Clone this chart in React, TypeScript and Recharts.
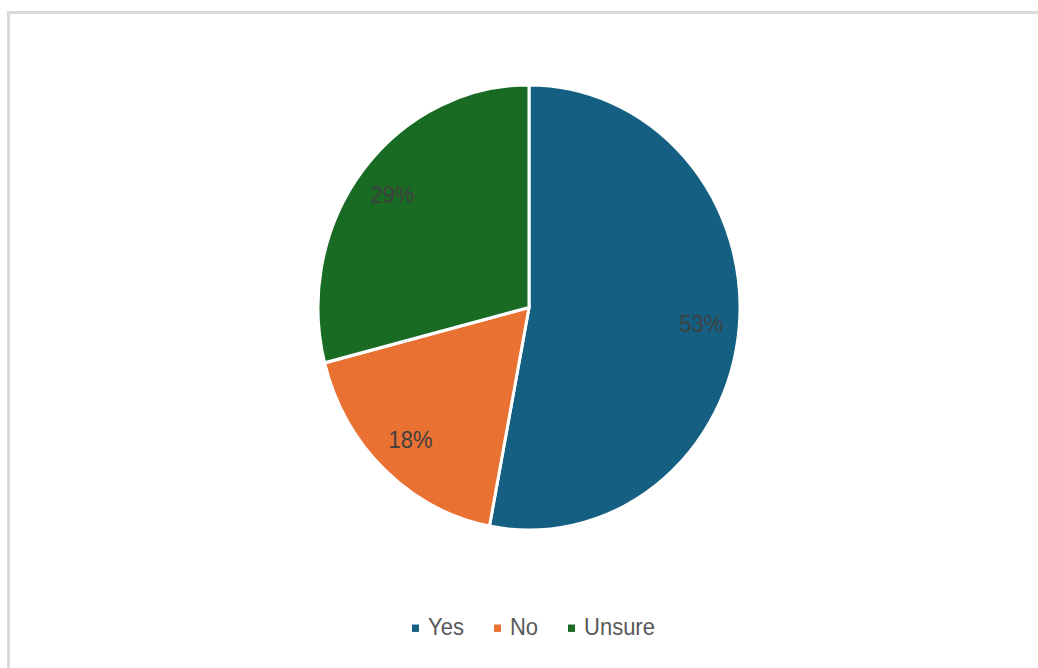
import React from "react";
import { PieChart, Pie, Cell, Legend } from "recharts";

const categories = ["Yes", "No", "Unsure"];
const values = [53, 18, 29];
const colors = ["#156082", "#E97132", "#196B24"];

const data = categories.map((name, i) => ({ name, value: values[i] }));

const RAD = Math.PI / 180;

const renderLabel = (props: any) => {
  const { cx, cy, midAngle, outerRadius, percent } = props;
  const r = outerRadius * 0.82;
  const x = cx + r * Math.cos(-midAngle * RAD);
  const y = cy + r * Math.sin(-midAngle * RAD);
  return (
    <text
      x={x}
      y={y}
      fill="#404040"
      textAnchor="middle"
      dominantBaseline="central"
      fontSize={22}
      fontFamily="'Liberation Sans', Arial, sans-serif"
    >
      {`${Math.round(percent * 100)}%`}
    </text>
  );
};

const renderLegend = () => (
  <div
    style={{
      display: "flex",
      alignItems: "center",
      fontFamily: "'Liberation Sans', Arial, sans-serif",
      fontSize: 22,
      color: "#595959",
      whiteSpace: "nowrap",
      lineHeight: "26px",
    }}
  >
    {data.map((d, i) => (
      <div
        key={d.name}
        style={{ display: "flex", alignItems: "center", marginRight: i < data.length - 1 ? 30 : 0 }}
      >
        <span
          style={{ display: "inline-block", width: 7, height: 7, background: colors[i], marginRight: 9 }}
        />
        <span>{d.name}</span>
      </div>
    ))}
  </div>
);

export default function App() {
  const cyBase = 307.5;
  const sy = 1.055;
  return (
    <div style={{ position: "absolute", left: 0, top: 0, width: 1038, height: 668, background: "#fff", overflow: "hidden" }}>
      <div
        style={{
          position: "absolute",
          left: 7,
          top: 11,
          width: 1040,
          height: 670,
          borderTop: "3px solid #d9d9d9",
          borderLeft: "3px solid #d9d9d9",
        }}
      />
      <div
        style={{
          position: "absolute",
          left: 0,
          top: 0,
          transform: `scaleY(${sy})`,
          transformOrigin: `0px ${cyBase}px`,
        }}
      >
        <PieChart width={1038} height={668} margin={{ top: 0, right: 0, bottom: 0, left: 0 }}>
          <Pie
            data={data}
            dataKey="value"
            nameKey="name"
            cx={529}
            cy={cyBase}
            outerRadius={211}
            startAngle={90}
            endAngle={-270}
            stroke="#ffffff"
            strokeWidth={3}
            label={renderLabel}
            labelLine={false}
            isAnimationActive={false}
          >
            {data.map((d, i) => (
              <Cell key={d.name} fill={colors[i]} />
            ))}
          </Pie>
          <Legend
            content={renderLegend}
            wrapperStyle={{ left: 412, top: 598, width: "auto", height: 26 }}
          />
        </PieChart>
      </div>
    </div>
  );
}
